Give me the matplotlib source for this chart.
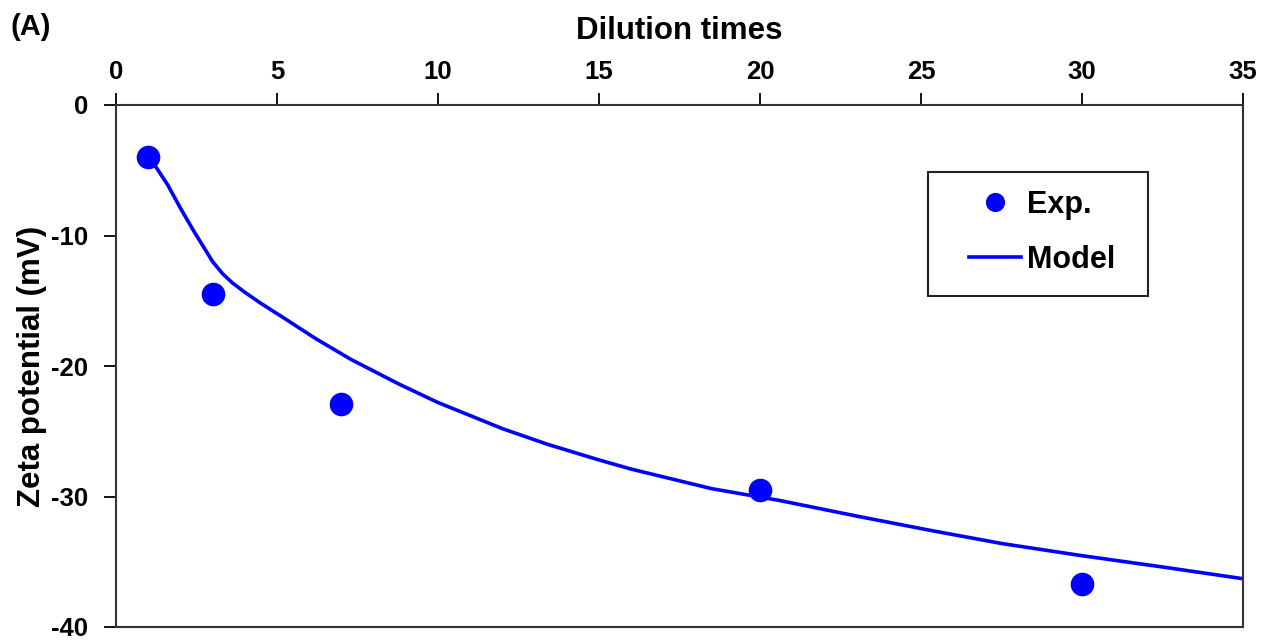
import numpy as np
import matplotlib
matplotlib.use("Agg")
import matplotlib.pyplot as plt
from matplotlib.patches import Rectangle

plt.rcParams["font.family"] = ["Liberation Sans", "DejaVu Sans"]
plt.rcParams["font.weight"] = "bold"
plt.rcParams["axes.unicode_minus"] = False

# experimental points
exp_x = [1, 3, 7, 20, 30]
exp_y = [-4.0, -14.5, -22.9, -29.5, -36.7]

# model curve
model_x = [1.0, 1.2, 1.6, 2.0, 2.4, 2.8, 3.0, 3.3, 3.6, 4.0, 4.5, 5.2, 6.2, 7.3,
           8.8, 10.0, 10.8, 12.0, 13.4, 15.0, 16.0, 18.5, 20.6, 23.0, 25.3,
           27.5, 29.9, 32.5, 35.0]
model_y = [-4.0, -4.6, -6.1, -7.9, -9.6, -11.2, -12.0, -12.9, -13.6, -14.35, -15.2,
           -16.3, -17.9, -19.5, -21.4, -22.8, -23.6, -24.8, -26.0, -27.2, -27.9,
           -29.4, -30.3, -31.5, -32.6, -33.6, -34.5, -35.4, -36.3]

x_ticks = [0, 5, 10, 15, 20, 25, 30, 35]
y_ticks = [0, -10, -20, -30, -40]

fig = plt.figure(figsize=(12.62, 6.4), dpi=100)
ax = fig.add_axes([116 / 1262, 13 / 640, 1127 / 1262, 522 / 640])

ax.plot(model_x, model_y, color="#0000FF", linewidth=2.6, label="Model",
        solid_joinstyle="round", zorder=2)
ax.plot(exp_x, exp_y, "o", color="#0000FF", markersize=16, label="Exp.", zorder=3)

ax.set_xlim(0, 35)
ax.set_ylim(-40, 0)
ax.set_xticks(x_ticks)
ax.set_yticks(y_ticks)

ax.xaxis.set_ticks_position("top")
ax.xaxis.set_label_position("top")
ax.tick_params(axis="x", direction="out", length=9, width=1.3, pad=6,
               labelsize=18.5, colors="black")
ax.tick_params(axis="y", direction="out", length=9, width=1.3, pad=11,
               labelsize=18.5, colors="black")
for s in ax.spines.values():
    s.set_linewidth(1.5)
    s.set_color("#333333")

ax.set_xlabel("Dilution times", fontsize=22.5, fontweight="bold", labelpad=15)
ax.set_ylabel("Zeta potential (mV)", fontsize=22.5, fontweight="bold", labelpad=3)

# legend (frame drawn separately to get the wide box)
h, l = ax.get_legend_handles_labels()
leg = ax.legend([h[1], h[0]], [l[1], l[0]], loc="center",
                bbox_to_anchor=(0.822, 0.756), frameon=False,
                fontsize=22, handlelength=1.7, handletextpad=0.2,
                labelspacing=0.8, markerscale=0.8)
ax.add_patch(Rectangle((0.7205, 0.634), 0.1952, 0.2384, transform=ax.transAxes,
                       fill=False, edgecolor="#222222", linewidth=1.5, zorder=4))

fig.text(0.008, 0.98, "(A)", fontsize=21, fontweight="bold", va="top", ha="left")

fig.savefig("out.png", dpi=100)
